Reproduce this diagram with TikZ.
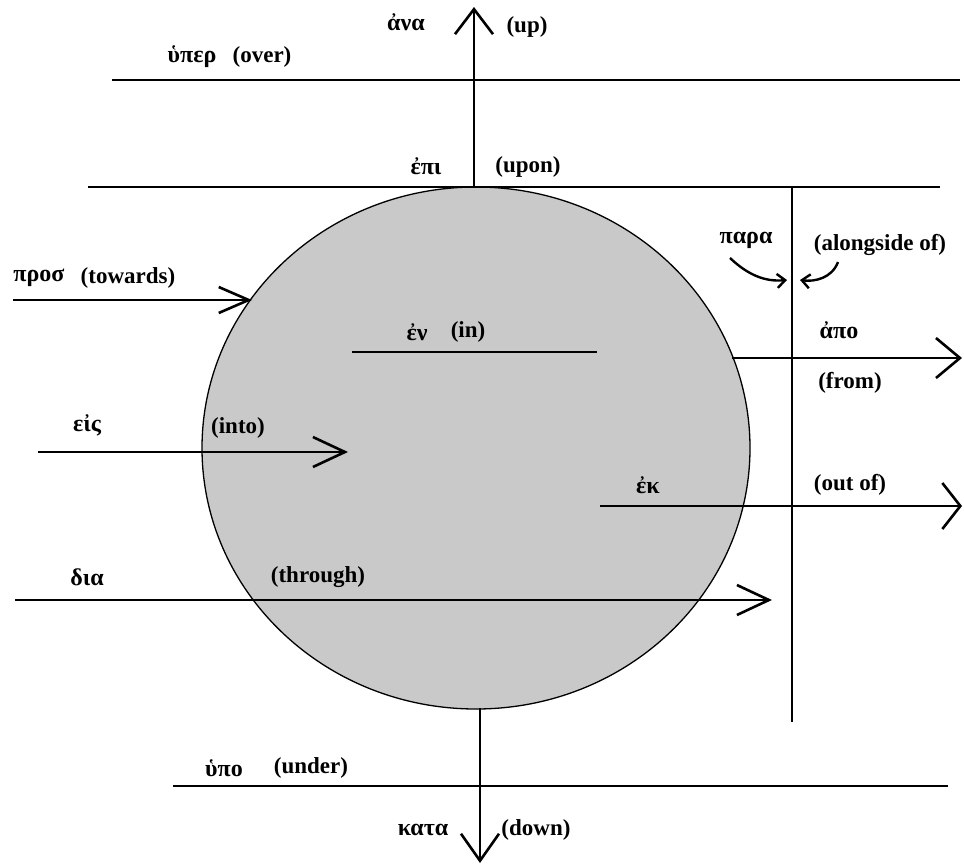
\documentclass[tikz,border=0pt]{standalone}
\usepackage{fontspec}
\setmainfont{Liberation Serif}
\usetikzlibrary{arrows.meta,shapes.geometric}
\begin{document}
\begin{tikzpicture}[x=1pt,y=-1pt,
  lab/.style={font=\fontsize{23}{23}\selectfont\bfseries, inner sep=0pt},
  grk/.style={font=\fontsize{24}{24}\selectfont\bfseries, inner sep=0pt},
  ln/.style={line width=2.8pt},
  barb/.style 2 args={ln,-{Straight Barb[length=#1pt,width=#2pt,line width=2.6pt]}},
  smallbarb/.style={line width=2.4pt,-{Straight Barb[length=8pt,width=14pt,line width=2.4pt]}}
]
\useasboundingbox (0,0) rectangle (964,865);
% circle
\node[ellipse, draw, line width=1.3pt, fill=black!21, minimum width=548pt, minimum height=522pt, inner sep=0pt] (globe) at (476,448) {};

% coordinates
\coordinate (overL) at (112,80);   \coordinate (overR) at (960,80);
\coordinate (uponL) at (88,187);   \coordinate (uponR) at (940,187);
\coordinate (upS) at (474,187);    \coordinate (upE) at (474,7);
\coordinate (dnS) at (480,708);    \coordinate (dnE) at (480,863);
\coordinate (underL) at (173,786); \coordinate (underR) at (948,786);
\coordinate (paraT) at (792,187);  \coordinate (paraB) at (792,722);
\coordinate (prosS) at (13,300);   \coordinate (prosE) at (252,300);
\coordinate (eisS) at (38,452);    \coordinate (eisE) at (348,452);
\coordinate (enL) at (352,352);    \coordinate (enR) at (597,352);
\coordinate (diaS) at (15,600);    \coordinate (diaE) at (772,600);
\coordinate (apoS) at (732,358);   \coordinate (apoE) at (962,358);
\coordinate (ekS) at (600,506);    \coordinate (ekE) at (962,506);
\coordinate (pL1) at (730,258);    \coordinate (pL2) at (787,280);
\coordinate (pR1) at (838,262);    \coordinate (pR2) at (800,280);

% lines
\draw[ln] (overL) -- (overR);
\draw[ln] (uponL) -- (uponR);
\draw[ln] (underL) -- (underR);
\draw[ln] (paraT) -- (paraB);
\draw[ln] (enL) -- (enR);
\draw[barb={25}{38}] (upS) -- (upE);
\draw[barb={27}{38}] (dnS) -- (dnE);
\draw[barb={30}{26}] (prosS) -- (prosE);
\draw[barb={32}{30}] (eisS) -- (eisE);
\draw[barb={32}{30}] (diaS) -- (diaE);
\draw[barb={24}{40}] (apoS) -- (apoE);
\draw[barb={18}{46}] (ekS) -- (ekE);
\draw[smallbarb] (pL1) .. controls (748,275) and (765,282) .. (pL2);
\draw[smallbarb] (pR1) .. controls (832,278) and (815,282) .. (pR2);

% labels
\node[grk] (ana) at (406,22) {ἀνα};
\node[lab] (up) at (527,27) {(up)};
\node[grk] (hyper) at (192,57) {ὑπερ};
\node[lab] (over) at (262,57) {(over)};
\node[grk] (epi) at (426,166) {ἐπι};
\node[lab] (upon) at (528,167) {(upon)};
\node[grk] (pros) at (39,278) {προσ};
\node[lab] (towards) at (128,278) {(towards)};
\node[grk] (en) at (417,332) {ἐν};
\node[lab] (in) at (468,332) {(in)};
\node[grk] (para) at (746,240) {παρα};
\node[lab] (alongside) at (880,245) {(alongside of)};
\node[grk] (apo) at (839,330) {ἀπο};
\node[lab] (from) at (850,383) {(from)};
\node[grk] (eis) at (87,425) {εἰς};
\node[lab] (into) at (238,428) {(into)};
\node[grk] (ek) at (648,485) {ἐκ};
\node[lab] (outof) at (850,485) {(out of)};
\node[grk] (dia) at (87,577) {δια};
\node[lab] (through) at (318,577) {(through)};
\node[grk] (hypo) at (224,768) {ὑπο};
\node[lab] (under) at (311,768) {(under)};
\node[grk] (kata) at (423,830) {κατα};
\node[lab] (down) at (536,830) {(down)};
\end{tikzpicture}
\end{document}
